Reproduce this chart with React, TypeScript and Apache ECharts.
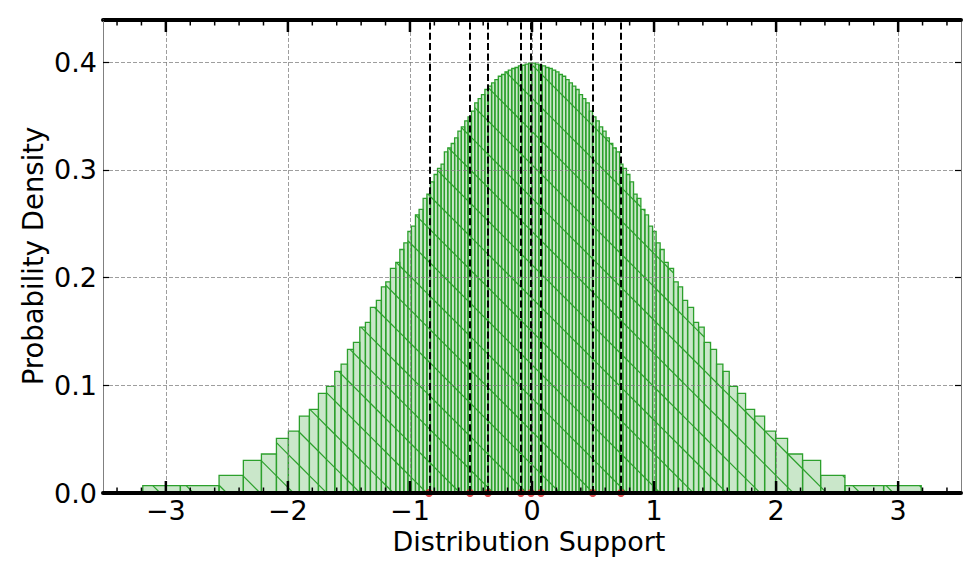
import React, { useEffect, useRef } from 'react';
import * as echarts from 'echarts';

// ---- data ----
const LEFT_EDGES = [
  -3.189, -2.881, -2.564, -2.365, -2.217, -2.094, -1.996, -1.906, -1.824, -1.750,
  -1.684, -1.616, -1.564, -1.512, -1.463, -1.411, -1.365, -1.324, -1.275, -1.234,
  -1.198, -1.160, -1.116, -1.083, -1.050, -1.017, -0.988, -0.955, -0.925, -0.892,
  -0.861, -0.832, -0.802, -0.774, -0.745, -0.718, -0.690, -0.662, -0.634, -0.607,
  -0.579, -0.551, -0.524, -0.496, -0.469, -0.441, -0.414, -0.386, -0.359, -0.331,
  -0.304, -0.276, -0.249, -0.221, -0.194, -0.166, -0.139, -0.111, -0.083, -0.056,
  -0.028, 0,
];
const LEFT_HEIGHTS = [
  0.0068, 0.0068, 0.0164, 0.0303, 0.0362, 0.0507, 0.0574, 0.0714, 0.0776, 0.0925,
  0.0990, 0.1129, 0.1197, 0.1333, 0.1398, 0.1540, 0.1583, 0.1722, 0.1787, 0.1914,
  0.1960, 0.2084, 0.2140, 0.2260, 0.2322, 0.2427, 0.2477, 0.2582, 0.2632, 0.2734,
  0.2774, 0.2888, 0.2956, 0.3012, 0.3052, 0.3166, 0.3203, 0.3244, 0.3296, 0.3358,
  0.3398, 0.3454, 0.3491, 0.3544, 0.3621, 0.3661, 0.3698, 0.3745, 0.3776, 0.3806,
  0.3837, 0.3868, 0.3884, 0.3909, 0.3924, 0.3940, 0.3949, 0.3964, 0.3970, 0.3980,
  0.3989,
];
const RIGHT_EDGES = [
  0, 0.028, 0.056, 0.083, 0.111, 0.139, 0.166, 0.194, 0.221, 0.249,
  0.276, 0.304, 0.331, 0.359, 0.386, 0.414, 0.441, 0.469, 0.496, 0.524,
  0.551, 0.579, 0.607, 0.634, 0.662, 0.690, 0.718, 0.745, 0.774, 0.802,
  0.832, 0.861, 0.892, 0.925, 0.955, 0.988, 1.017, 1.050, 1.083, 1.116,
  1.160, 1.198, 1.234, 1.275, 1.324, 1.365, 1.411, 1.463, 1.512, 1.564,
  1.616, 1.684, 1.750, 1.824, 1.906, 1.996, 2.094, 2.217, 2.365, 2.564,
  2.881, 3.189,
];
const RIGHT_HEIGHTS = [
  0.3989, 0.3980, 0.3970, 0.3964, 0.3949, 0.3940, 0.3924, 0.3909, 0.3884, 0.3868,
  0.3837, 0.3806, 0.3776, 0.3745, 0.3698, 0.3661, 0.3621, 0.3544, 0.3491, 0.3454,
  0.3398, 0.3358, 0.3296, 0.3244, 0.3203, 0.3166, 0.3052, 0.3012, 0.2956, 0.2888,
  0.2774, 0.2734, 0.2632, 0.2582, 0.2477, 0.2427, 0.2322, 0.2260, 0.2140, 0.2084,
  0.1960, 0.1914, 0.1787, 0.1722, 0.1583, 0.1540, 0.1398, 0.1333, 0.1197, 0.1129,
  0.0990, 0.0925, 0.0776, 0.0714, 0.0574, 0.0507, 0.0362, 0.0303, 0.0164, 0.0068,
  0.0068,
];
const DASHED_X = [-0.844, -0.508, -0.361, -0.091, -0.008, 0.074, 0.498, 0.729];
const X_MAJOR_TICKS = [-3, -2, -1, 0, 1, 2, 3];
const X_MINOR_TICKS = [
  -3.4, -3.2, -2.8, -2.6, -2.4, -2.2, -1.8, -1.6, -1.4, -1.2, -0.8, -0.6, -0.4, -0.2,
  0.2, 0.4, 0.6, 0.8, 1.2, 1.4, 1.6, 1.8, 2.2, 2.4, 2.6, 2.8, 3.2, 3.4,
];
const X_MIN = -3.515;
const X_MAX = 3.515;
const Y_MIN = 0;
const Y_MAX = 0.439;
const Y_INTERVAL = 0.1;
const X_LABEL = 'Distribution Support';
const Y_LABEL = 'Probability Density';

// ---- styles ----
const FONT = 'DejaVu Sans';
const EDGE = '#2ca02c';
const FILL = 'rgba(44,160,44,0.25)';
const GRID = 'rgba(128,128,128,0.85)';
const SPINE_GRAY = '#808080';
const HATCH_SPACING = 100 / 3;
const HATCH_PHASE = 0.5;

function buildBars() {
  const out: number[][] = [];
  for (let i = 0; i < LEFT_HEIGHTS.length; i++) out.push([LEFT_EDGES[i], LEFT_EDGES[i + 1], LEFT_HEIGHTS[i]]);
  for (let i = 0; i < RIGHT_HEIGHTS.length; i++) out.push([RIGHT_EDGES[i], RIGHT_EDGES[i + 1], RIGHT_HEIGHTS[i]]);
  return out;
}

const fmtX = (v: number) => {
  if (Math.abs(v - Math.round(v)) > 1e-6) return '';
  const r = Math.round(v);
  return r < 0 ? '\u2212' + Math.abs(r) : String(r);
};
const fmtY = (v: number) => {
  const t = v / Y_INTERVAL;
  if (Math.abs(t - Math.round(t)) > 1e-6) return '';
  return v.toFixed(1);
};

function renderBar(params: any, api: any) {
  const x0 = api.value(0);
  const x1 = api.value(1);
  const h = api.value(2);
  const tl = api.coord([x0, h]);
  const br = api.coord([x1, 0]);
  const X0 = tl[0], Y0 = tl[1], X1 = br[0], Y1 = br[1];
  const children: any[] = [
    { type: 'rect', shape: { x: X0, y: Y0, width: X1 - X0, height: Y1 - Y0 }, style: { fill: FILL, stroke: null } },
  ];
  const kStart = Math.ceil((X0 - Y1 - HATCH_PHASE) / HATCH_SPACING);
  const kEnd = Math.floor((X1 - Y0 - HATCH_PHASE) / HATCH_SPACING);
  for (let k = kStart; k <= kEnd; k++) {
    const c = k * HATCH_SPACING + HATCH_PHASE;
    const xa = Math.max(X0, Y0 + c);
    const xb = Math.min(X1, Y1 + c);
    if (xb - xa > 0.2) {
      children.push({ type: 'line', shape: { x1: xa, y1: xa - c, x2: xb, y2: xb - c }, style: { stroke: EDGE, lineWidth: 1.2 } });
    }
  }
  children.push({ type: 'rect', shape: { x: X0, y: Y0, width: X1 - X0, height: Y1 - Y0 }, style: { fill: 'none', stroke: EDGE, lineWidth: 1.3 } });
  return { type: 'group', children };
}

function renderTick(params: any, api: any) {
  const v = api.value(0);
  const major = api.value(2) === 1;
  const cs = params.coordSys;
  const x = api.coord([v, 0])[0];
  const len = major ? 12 : 5.5;
  const w = major ? 2.5 : 1.5;
  const bottom = cs.y + cs.height;
  return {
    type: 'group',
    children: [
      { type: 'line', shape: { x1: x, y1: bottom, x2: x, y2: bottom - len }, style: { stroke: '#000', lineWidth: w } },
      { type: 'line', shape: { x1: x, y1: cs.y, x2: x, y2: cs.y + len }, style: { stroke: '#000', lineWidth: w } },
    ],
  };
}

export default function App() {
  const ref = useRef<HTMLDivElement>(null);
  useEffect(() => {
    if (!ref.current) return;
    const chart = echarts.init(ref.current, null, { renderer: 'svg' });
    const xCommon = { type: 'value', min: X_MIN, max: X_MAX, minInterval: 1, maxInterval: 1 };
    const yCommon = { type: 'value', min: Y_MIN, max: Y_MAX, interval: Y_INTERVAL };
    const tickData = [
      ...X_MAJOR_TICKS.map((v) => [v, 0, 1]),
      ...X_MINOR_TICKS.map((v) => [v, 0, 0]),
    ];
    const option: any = {
      animation: false,
      backgroundColor: '#fff',
      grid: { left: 103, right: 19, top: 20, bottom: 87, outerBoundsMode: 'none' },
      xAxis: [
        {
          ...xCommon,
          position: 'bottom',
          z: 6,
          axisLine: { onZero: false, lineStyle: { color: '#000', width: 4 } },
          axisTick: { show: false },
          splitLine: { show: false },
          axisLabel: { fontFamily: FONT, fontSize: 27, color: '#000', margin: 4, formatter: fmtX, showMinLabel: true, showMaxLabel: true, hideOverlap: false },
        },
        {
          ...xCommon,
          position: 'top',
          z: 4,
          axisLine: { onZero: false, lineStyle: { color: '#000', width: 4 } },
          axisTick: { show: false },
          axisLabel: { show: false },
          splitLine: { show: true, showMinLine: false, showMaxLine: false, lineStyle: { color: GRID, width: 0.9, type: [4, 2] } },
        },
      ],
      yAxis: [
        {
          ...yCommon,
          position: 'left',
          z: 6,
          axisLine: { show: true, onZero: false, lineStyle: { color: SPINE_GRAY, width: 1 } },
          axisTick: { show: true, inside: true, length: 6, lineStyle: { color: '#000', width: 1.2 } },
          splitLine: { show: false },
          axisLabel: { fontFamily: FONT, fontSize: 27, color: '#000', margin: 6, formatter: fmtY, hideOverlap: false },
        },
        {
          ...yCommon,
          position: 'right',
          z: 4,
          axisLine: { show: true, onZero: false, lineStyle: { color: SPINE_GRAY, width: 1 } },
          axisTick: { show: true, inside: true, length: 6, lineStyle: { color: '#000', width: 1.2 } },
          axisLabel: { show: false },
          splitLine: { show: true, showMinLine: false, showMaxLine: false, lineStyle: { color: GRID, width: 0.9, type: [4, 2] } },
        },
      ],
      graphic: [
        {
          type: 'text', x: 529, y: 541, z: 10,
          style: { text: X_LABEL, fontFamily: FONT, fontSize: 27, fill: '#000', align: 'center', verticalAlign: 'middle' },
        },
        {
          type: 'text', x: 33, y: 256, rotation: Math.PI / 2, z: 10,
          style: { text: Y_LABEL, fontFamily: FONT, fontSize: 27.5, fill: '#000', align: 'center', verticalAlign: 'middle' },
        },
      ],
      series: [
        {
          type: 'custom',
          name: 'bars',
          silent: true,
          z: 2,
          xAxisIndex: 0,
          yAxisIndex: 0,
          renderItem: renderBar,
          encode: { x: [0, 1], y: 2 },
          data: buildBars(),
        },
        {
          type: 'scatter',
          silent: true,
          z: 3,
          xAxisIndex: 0,
          yAxisIndex: 0,
          symbol: 'circle',
          symbolSize: 8,
          clip: false,
          itemStyle: { color: '#d62728' },
          data: DASHED_X.map((v) => [v, 0]),
          markLine: {
            silent: true,
            z: 5,
            symbol: ['none', 'none'],
            label: { show: false },
            emphasis: { disabled: true },
            lineStyle: { color: '#000', width: 2, type: [7, 3.3], opacity: 1 },
            data: DASHED_X.map((v) => ({ xAxis: v })),
          },
        },
        {
          type: 'custom',
          name: 'ticks',
          silent: true,
          z: 7,
          xAxisIndex: 0,
          yAxisIndex: 0,
          clip: false,
          renderItem: renderTick,
          encode: { x: 0, y: 1 },
          data: tickData,
        },
      ],
    };
    chart.setOption(option);
    return () => chart.dispose();
  }, []);
  return <div ref={ref} style={{ position: 'absolute', left: 0, top: 0, width: 980, height: 580, background: '#fff' }} />;
}
